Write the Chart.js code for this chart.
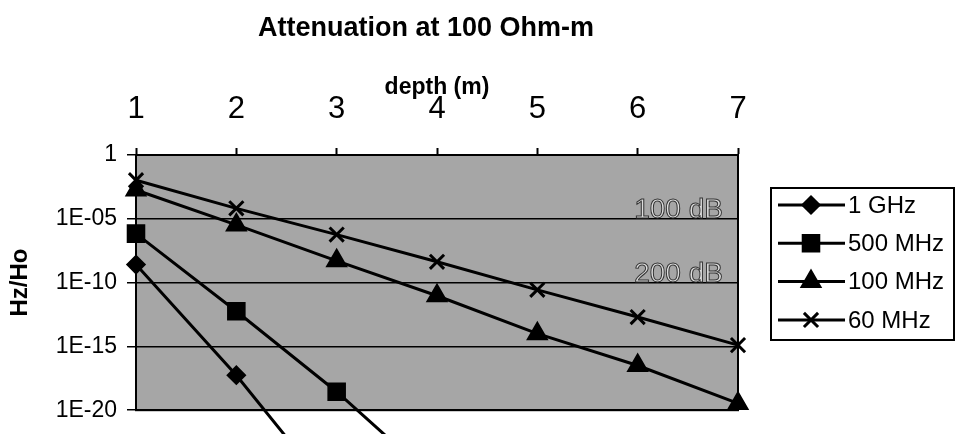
<!DOCTYPE html>
<html>
<head>
<meta charset="utf-8">
<script src="https://cdn.jsdelivr.net/npm/chart.js@4"></script>
<style>
  body { margin: 0; background: #fff; }
</style>
</head>
<body>
<canvas id="attenuationChart" width="958" height="434"></canvas>
<script>
var depths = [1, 2, 3, 4, 5, 6, 7];
var yTickValues = [1e-20, 1e-15, 1e-10, 1e-5, 1];
var yTickLabels = ['1E-20', '1E-15', '1E-10', '1E-05', '1'];

var seriesNames = ['1 GHz', '500 MHz', '100 MHz', '60 MHz'];
var ghz1 = [2.6e-9, 5.5e-18, 1e-27, null, null, null, null];
var mhz500 = [6.9e-7, 5.7e-13, 2.8e-19, 2.5e-26, null, null, null];
var mhz100 = [1.8e-3, 3.3e-6, 5.1e-9, 9.3e-12, 1e-14, 3.2e-17, 3.4e-20];
var mhz60 = [1.05e-2, 6.6e-5, 5.8e-7, 4.3e-9, 2.7e-11, 2e-13, 1.26e-15];

var dbLabels = ['100 dB', '200 dB'];
var dbLevels = [1e-5, 1e-10];

var FONT = '"Liberation Sans", Arial, sans-serif';
Chart.defaults.font.family = FONT;
Chart.defaults.color = '#000';

function makeSeries(label, values, style, radius){
  var pts = [];
  for(var i = 0; i < depths.length; i++){
    if(values[i] !== null) pts.push({x: depths[i], y: values[i]});
  }
  return {label: label, data: pts, borderColor: '#000', backgroundColor: '#000',
    borderWidth: 3, pointStyle: style, pointRadius: radius, pointBorderWidth: 3,
    pointBackgroundColor: '#000', pointBorderColor: '#000', tension: 0, clip: false};
}

var plotDecor = {
  id: 'plotDecor',
  beforeDraw: function(chart){
    var a = chart.chartArea, ctx = chart.ctx;
    ctx.save();
    ctx.fillStyle = '#a6a6a6';
    ctx.fillRect(a.left, a.top, a.right - a.left, a.bottom - a.top);
    ctx.restore();
  },
  beforeDatasetsDraw: function(chart){
    var a = chart.chartArea, ctx = chart.ctx;
    var xs = chart.scales.x, ys = chart.scales.y;
    ctx.save();
    ctx.font = '28px ' + FONT;
    ctx.textAlign = 'right';
    ctx.textBaseline = 'alphabetic';
    ctx.fillStyle = '#dcdcdc';
    ctx.strokeStyle = '#333';
    ctx.lineWidth = 1;
    for(var i = 0; i < dbLabels.length; i++){
      var px = xs.getPixelForValue(6.85), py = ys.getPixelForValue(dbLevels[i]) - 1;
      ctx.fillText(dbLabels[i], px, py);
      ctx.strokeText(dbLabels[i], px, py);
    }
    ctx.strokeStyle = '#000';
    ctx.lineWidth = 2;
    ctx.strokeRect(a.left, a.top, a.right - a.left, a.bottom - a.top);
    ctx.restore();
  },
  afterDraw: function(chart){
    var ctx = chart.ctx, a = chart.chartArea;
    ctx.save();
    ctx.fillStyle = '#000';
    ctx.font = 'bold 27px ' + FONT;
    ctx.textAlign = 'center';
    ctx.textBaseline = 'alphabetic';
    ctx.fillText('Attenuation at 100 Ohm-m', 426, 36);

    // legend box
    var lx = a.right + 33, ly = 188, lw = 183, lh = 152;
    ctx.fillStyle = '#fff';
    ctx.fillRect(lx, ly, lw, lh);
    ctx.strokeStyle = '#000';
    ctx.lineWidth = 2;
    ctx.strokeRect(lx, ly, lw, lh);
    ctx.font = '24px ' + FONT;
    ctx.textAlign = 'left';
    ctx.textBaseline = 'middle';
    chart.data.datasets.forEach(function(ds, i){
      var y = ly + 17 + i * 38.3;
      ctx.strokeStyle = '#000';
      ctx.lineWidth = 3;
      ctx.beginPath();
      ctx.moveTo(lx + 7, y);
      ctx.lineTo(lx + 74, y);
      ctx.stroke();
      ctx.fillStyle = '#000';
      Chart.helpers.drawPoint(ctx, {pointStyle: ds.pointStyle, radius: ds.pointRadius, rotation: 0, borderWidth: 3}, lx + 40, y);
      ctx.fillStyle = '#000';
      ctx.fillText(ds.label, lx + 77, y + 1);
    });
    ctx.restore();
  }
};

function createChart(){
  var ctx = document.getElementById('attenuationChart').getContext('2d');
  new Chart(ctx, {
    type: 'line',
    data: {
      datasets: [
        makeSeries(seriesNames[0], ghz1, 'rectRot', 8),
        makeSeries(seriesNames[1], mhz500, 'rect', 11),
        makeSeries(seriesNames[2], mhz100, 'triangle', 10),
        makeSeries(seriesNames[3], mhz60, 'crossRot', 10)
      ]
    },
    options: {
      responsive: false,
      animation: false,
      layout: {padding: {top: 0, left: 0, right: 220, bottom: 15}},
      plugins: {legend: {display: false}, tooltip: {enabled: false}},
      scales: {
        x: {
          type: 'linear', position: 'top', min: 1, max: 7,
          ticks: {stepSize: 1, font: {size: 31}, padding: 20, maxRotation: 0},
          grid: {drawOnChartArea: false, tickLength: 7, tickColor: '#000', tickWidth: 2},
          border: {color: '#000', width: 2},
          title: {display: true, text: 'depth (m)', font: {size: 23, weight: 'bold'}, padding: {top: 74}},
          afterFit: function(scale){ scale.height = 155; }
        },
        y: {
          type: 'logarithmic', min: 1e-20, max: 1,
          afterBuildTicks: function(scale){
            scale.ticks = yTickValues.map(function(v){ return {value: v}; });
          },
          ticks: {
            autoSkip: false, font: {size: 23}, padding: 10,
            callback: function(value, index){ return yTickLabels[index]; }
          },
          grid: {color: '#000', lineWidth: 1.5, tickLength: 9, tickColor: '#000'},
          border: {color: '#000', width: 2},
          title: {display: true, text: 'Hz/Ho', font: {size: 24, weight: 'bold'}, padding: {top: 6}},
          afterFit: function(scale){ scale.width = 136; }
        }
      }
    },
    plugins: [plotDecor]
  });
}

createChart();
</script>
</body>
</html>
